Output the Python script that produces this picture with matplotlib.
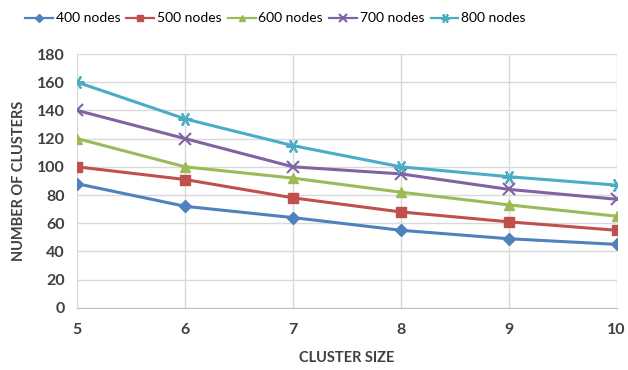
import matplotlib.pyplot as plt

# cluster size on x, number of clusters per network size
cluster_size = [5, 6, 7, 8, 9, 10]
nodes_400 = [88, 72, 64, 55, 49, 45]
nodes_500 = [100, 91, 78, 68, 61, 55]
nodes_600 = [120, 100, 92, 82, 73, 65]
nodes_700 = [140, 120, 100, 95, 84, 77]
nodes_800 = [160, 134, 115, 100, 93, 87]

labels = ['400 nodes', '500 nodes', '600 nodes', '700 nodes', '800 nodes']
colors = ['#4F81BD', '#C0504D', '#9BBB59', '#8064A2', '#4BACC6']
markers = ['D', 's', '^', 'x', (6, 2, 90)]
sizes = [6, 7, 7, 8, 10]

plt.rcParams['font.family'] = ['Lato', 'DejaVu Sans']

fig = plt.figure(figsize=(6.28, 3.70), dpi=100)
ax = fig.add_axes([0.123, 0.168, 0.859, 0.686])

series = [nodes_400, nodes_500, nodes_600, nodes_700, nodes_800]
for vals, lab, c, m, s in zip(series, labels, colors, markers, sizes):
    ax.plot(cluster_size, vals, color=c, linewidth=2.2, marker=m, markersize=s,
            markeredgewidth=1.5 if m in ('x',) or isinstance(m, tuple) else 1,
            markeredgecolor=c, label=lab)

ax.set_xlim(5, 10)
ax.set_ylim(0, 180)
ax.set_xticks(cluster_size)
ax.set_yticks(range(0, 181, 20))
ax.grid(True, color='#D9D9D9', linewidth=1)
ax.set_axisbelow(True)
for side in ['top', 'right', 'left']:
    ax.spines[side].set_visible(False)
ax.spines['bottom'].set_color('#BFBFBF')
ax.tick_params(length=0, labelsize=11.5, colors='#404040')
ax.tick_params(axis='x', pad=11)
ax.tick_params(axis='y', pad=9)
for t in ax.get_xticklabels() + ax.get_yticklabels():
    t.set_fontweight('bold')

ax.set_xlabel('CLUSTER SIZE', fontsize=10.5, fontweight='bold', color='#404040', labelpad=10)
ax.set_ylabel('NUMBER OF CLUSTERS', fontsize=10.5, fontweight='bold', color='#404040', labelpad=8)

leg = fig.legend(loc='upper left', bbox_to_anchor=(0.02, 1.0), ncol=5, frameon=False,
                 fontsize=10, handlelength=2.0, handletextpad=0.2, columnspacing=0.45,
                 markerscale=0.65)
for h in leg.legend_handles:
    h.set_linewidth(1.6)

fig.savefig('out.png', dpi=100)
